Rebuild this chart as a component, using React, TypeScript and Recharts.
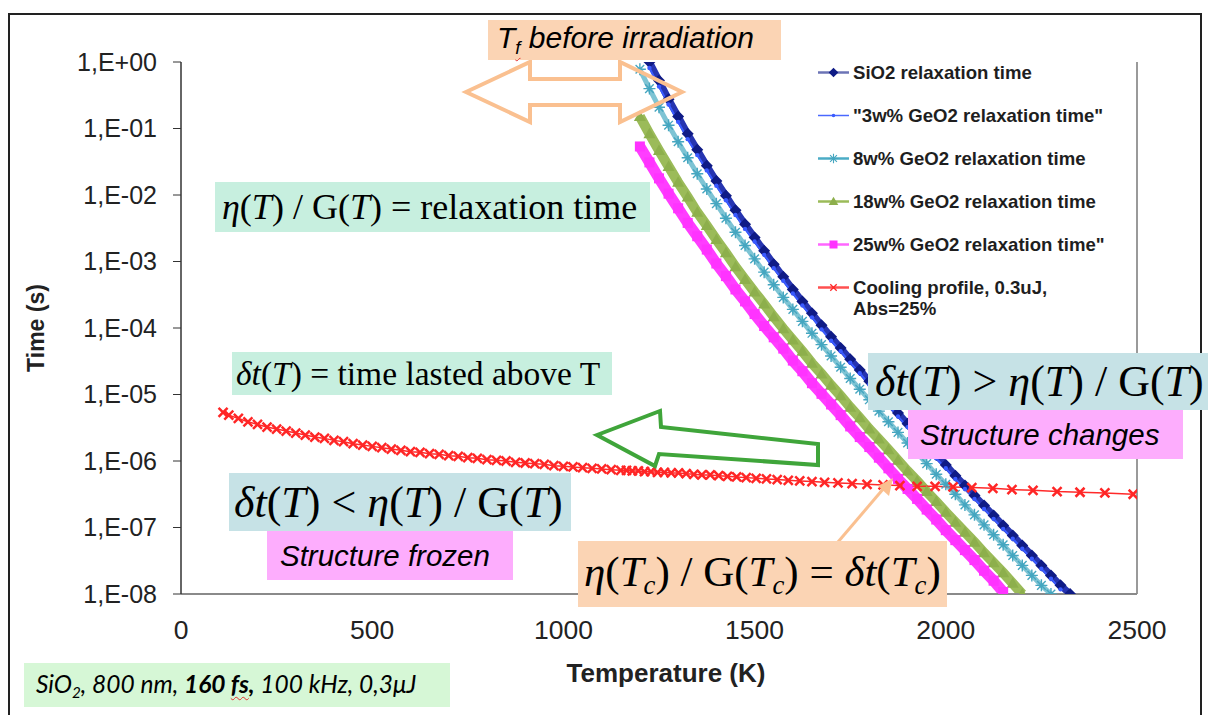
import React from "react";
import { LineChart, Line, XAxis, YAxis, Legend, ReferenceLine } from "recharts";

// temperature grid (K) shared by the relaxation-time curves
const relaxTemps = [
  1200, 1225, 1250, 1275, 1300, 1325, 1350, 1375, 1400, 1425, 1450, 1475, 1500, 1525, 1550, 1575,
  1600, 1625, 1650, 1675, 1700, 1725, 1750, 1775, 1800, 1825, 1850, 1875, 1900, 1925, 1950, 1975,
  2000, 2025, 2050, 2075, 2100, 2125, 2150, 2175, 2200, 2225, 2250, 2275, 2300, 2325,
];

// log10 of the relaxation time (s); null = outside the drawn range
const sio2Exp = [
  null, 0.0, -0.28, -0.56, -0.82, -1.08, -1.32, -1.56, -1.79, -2.01, -2.23, -2.44, -2.64, -2.84, -3.04, -3.23,
  -3.42, -3.6, -3.78, -3.96, -4.13, -4.3, -4.47, -4.63, -4.8, -4.96, -5.12, -5.28, -5.44, -5.6, -5.75, -5.91,
  -6.06, -6.22, -6.37, -6.52, -6.67, -6.82, -6.97, -7.12, -7.27, -7.42, -7.57, -7.72, -7.87, -8.0,
];
const geo3Exp = [
  null, -0.09, -0.37, -0.64, -0.9, -1.16, -1.4, -1.63, -1.86, -2.08, -2.3, -2.51, -2.7, -2.9, -3.1, -3.29,
  -3.48, -3.66, -3.84, -4.02, -4.19, -4.35, -4.52, -4.68, -4.85, -5.01, -5.17, -5.33, -5.49, -5.65, -5.8, -5.96,
  -6.11, -6.27, -6.42, -6.57, -6.72, -6.87, -7.02, -7.17, -7.32, -7.47, -7.62, -7.77, -7.93, null,
];
const geo8Exp = [
  -0.11, -0.4, -0.68, -0.95, -1.2, -1.44, -1.68, -1.91, -2.13, -2.35, -2.56, -2.76, -2.96, -3.16, -3.35, -3.54,
  -3.72, -3.9, -4.08, -4.25, -4.42, -4.59, -4.76, -4.92, -5.08, -5.25, -5.41, -5.57, -5.73, -5.88, -6.04, -6.2,
  -6.35, -6.5, -6.66, -6.81, -6.96, -7.11, -7.26, -7.42, -7.57, -7.72, -7.87, -8.0, null, null,
];
const geo18Exp = [
  -0.82, -1.08, -1.33, -1.57, -1.81, -2.03, -2.26, -2.46, -2.67, -2.87, -3.08, -3.27, -3.46, -3.64, -3.83, -4.01,
  -4.18, -4.35, -4.53, -4.69, -4.86, -5.02, -5.19, -5.35, -5.52, -5.67, -5.83, -5.99, -6.15, -6.3, -6.46, -6.61,
  -6.77, -6.92, -7.07, -7.22, -7.38, -7.53, -7.68, -7.84, -8.0, null, null, null, null, null,
];
const geo25Exp = [
  -1.27, -1.51, -1.75, -1.98, -2.2, -2.42, -2.62, -2.82, -3.03, -3.22, -3.42, -3.6, -3.79, -3.97, -4.14, -4.31,
  -4.49, -4.65, -4.83, -4.99, -5.15, -5.31, -5.48, -5.64, -5.79, -5.95, -6.11, -6.27, -6.42, -6.57, -6.73, -6.88,
  -7.04, -7.19, -7.34, -7.49, -7.65, -7.8, -7.97, null, null, null, null, null, null, null,
];

// cooling profile: temperature (K) and log10 of time spent above it (s)
const coolingTemps = [
  110, 125, 150, 175, 200, 225, 250, 275, 300, 325, 350, 375, 400, 425, 450, 475, 500, 525, 550, 575,
  600, 625, 650, 675, 700, 725, 750, 775, 800, 825, 850, 875, 900, 925, 950, 975, 1000, 1025, 1050, 1075,
  1100, 1125, 1150, 1165, 1180, 1196, 1212, 1229, 1246, 1264, 1282, 1301, 1321, 1341, 1362, 1384, 1406,
  1429, 1453, 1478, 1504, 1531, 1559, 1588, 1618, 1650, 1683, 1718, 1755, 1794, 1836, 1880, 1925, 1972,
  2019, 2068, 2123, 2173, 2228, 2291, 2351, 2416, 2490,
];
const coolingExp = [
  -5.27, -5.31, -5.36, -5.41, -5.45, -5.49, -5.52, -5.55, -5.58, -5.61, -5.64, -5.66, -5.69, -5.71, -5.74, -5.76,
  -5.78, -5.8, -5.82, -5.84, -5.86, -5.87, -5.89, -5.9, -5.92, -5.93, -5.95, -5.96, -5.98, -5.99, -6.0, -6.02,
  -6.03, -6.04, -6.05, -6.07, -6.08, -6.09, -6.1, -6.11, -6.12, -6.13, -6.14, -6.14, -6.15, -6.15, -6.16, -6.16,
  -6.17, -6.17, -6.18, -6.18, -6.19, -6.2, -6.21, -6.21, -6.22, -6.23, -6.24, -6.25, -6.26, -6.27, -6.28, -6.29,
  -6.3, -6.31, -6.32, -6.33, -6.34, -6.35, -6.36, -6.37, -6.38, -6.38, -6.39, -6.4, -6.41, -6.43, -6.44, -6.46,
  -6.47, -6.48, -6.5,
];

const xTicks = [0, 500, 1000, 1500, 2000, 2500];
const yTicks = [1, 0.1, 0.01, 0.001, 1e-4, 1e-5, 1e-6, 1e-7, 1e-8];

const sans = '"Liberation Sans", Arial, Helvetica, sans-serif';
const serif = '"Liberation Serif", "Times New Roman", serif';

const toPoints = (temps: number[], exps: (number | null)[]) =>
  temps.flatMap((t, i) => (exps[i] == null ? [] : [{ t, time: Math.pow(10, exps[i] as number) }]));

const series = [
  { name: "SiO2 relaxation time", temps: relaxTemps, exps: sio2Exp, stroke: "#2634B0", width: 7, marker: "diamond", markerColor: "#0F1B86", legendStroke: "#6C74B6" },
  { name: "\"3w% GeO2 relaxation time\"", temps: relaxTemps, exps: geo3Exp, stroke: "#3A5AFF", width: 2, marker: "dot", markerColor: "#3A5AFF", legendStroke: "#4A68FF" },
  { name: "8w% GeO2 relaxation time", temps: relaxTemps, exps: geo8Exp, stroke: "#7EC4D4", width: 5, marker: "asterisk", markerColor: "#45A6C0", legendStroke: "#4BACC6" },
  { name: "18w% GeO2 relaxation time", temps: relaxTemps, exps: geo18Exp, stroke: "#9BBB59", width: 10, marker: "triangle", markerColor: "#8DAF4C", legendStroke: "#9BBB59" },
  { name: "25w% GeO2 relaxation time\"", temps: relaxTemps, exps: geo25Exp, stroke: "#FF3DFF", width: 11, marker: "square", markerColor: "#FF33FF", legendStroke: "#FF66FF" },
  { name: "Cooling profile, 0.3uJ,\nAbs=25%", temps: coolingTemps, exps: coolingExp, stroke: "#FF2A2A", width: 1.5, marker: "cross", markerColor: "#FF2626", legendStroke: "#FF5050" },
];

function Marker({ kind, x, y, color, legend }: { kind: string; x: number; y: number; color: string; legend?: boolean }) {
  switch (kind) {
    case "diamond":
      return <polygon points={`${x},${y - 6} ${x + 6},${y} ${x},${y + 6} ${x - 6},${y}`} fill={color} />;
    case "dot":
      return <circle cx={x} cy={y} r={2.2} fill={color} />;
    case "asterisk":
      return (
        <path
          d={`M${x - 6},${y}H${x + 6}M${x},${y - 6}V${y + 6}M${x - 4.3},${y - 4.3}L${x + 4.3},${y + 4.3}M${x - 4.3},${y + 4.3}L${x + 4.3},${y - 4.3}`}
          stroke={color}
          strokeWidth={1.4}
        />
      );
    case "triangle":
      return <polygon points={`${x},${y - 6} ${x + 6},${y + 4.5} ${x - 6},${y + 4.5}`} fill={color} />;
    case "square":
      return <rect x={x - 5} y={y - 5} width={10} height={10} fill={color} />;
    default: {
      const r = legend ? 4 : 4.5;
      return <path d={`M${x - r},${y - r}L${x + r},${y + r}M${x - r},${y + r}L${x + r},${y - r}`} stroke={color} strokeWidth={legend ? 1.6 : 2.5} />;
    }
  }
}

const fmtTime = (v: number) => {
  const e = Math.round(Math.log10(v));
  return `1,E${e < 0 ? "-" : "+"}${String(Math.abs(e)).padStart(2, "0")}`;
};

function renderLegend() {
  return (
    <div style={{ fontFamily: sans, fontWeight: 700, fontSize: 18.6, color: "#1e1e1e" }}>
      {series.map((s) => (
        <div key={s.name} style={{ display: "flex", alignItems: "flex-start", height: 43 }}>
          <svg width={35} height={21} style={{ flex: "none" }}>
            <line x1={0} x2={31} y1={10.5} y2={10.5} stroke={s.legendStroke} strokeWidth={s.marker === "dot" ? 1.5 : 2.5} />
            <g transform="translate(15.5 10.5) scale(0.8) translate(-15.5 -10.5)">
              <Marker kind={s.marker} x={15.5} y={10.5} color={s.markerColor} legend />
            </g>
          </svg>
          <span style={{ lineHeight: "21px", whiteSpace: "pre" }}>{s.name}</span>
        </div>
      ))}
    </div>
  );
}

function Box({ left, top, width, height, bg, style, children }: any) {
  return (
    <div
      style={{
        position: "absolute",
        left,
        top,
        width,
        height,
        background: bg,
        display: "flex",
        alignItems: "center",
        whiteSpace: "nowrap",
        color: "#000",
        boxSizing: "border-box",
        ...style,
      }}
    >
      {children}
    </div>
  );
}

const sub: React.CSSProperties = { fontSize: "0.62em", verticalAlign: "-0.3em" };
const wavy: React.CSSProperties = { textDecoration: "underline wavy #e53030", textDecorationThickness: 1, textUnderlineOffset: 3 };

export default function App() {
  return (
    <div style={{ position: "relative", width: 1208, height: 715, overflow: "hidden", background: "#fff" }}>
      <style>{"body{margin:0}"}</style>
      <div style={{ position: "absolute", left: 8, top: 13, width: 1194, height: 710, border: "2px solid #222", borderBottom: "none", boxSizing: "border-box" }} />
      <div style={{ position: "absolute", left: 0, top: 0 }}>
        <LineChart width={1208} height={715} margin={{ top: 62, right: 71, bottom: 91, left: 101 }}>
          <XAxis
            dataKey="t"
            type="number"
            domain={[0, 2500]}
            ticks={xTicks}
            allowDataOverflow
            height={30}
            axisLine={{ stroke: "#8a8a8a", strokeWidth: 2 }}
            tickLine={false}
            tickSize={6}
            tickMargin={20}
            tick={{ fontSize: 26.5, fill: "#222", fontFamily: sans }}
            label={{ value: "Temperature (K)", position: "bottom", offset: 40, dx: 7, style: { fontSize: 26, fontWeight: 700, fill: "#222", fontFamily: sans } }}
          />
          <XAxis
            xAxisId="top"
            orientation="top"
            type="number"
            domain={[0, 2500]}
            ticks={xTicks}
            height={0}
            mirror
            tick={false}
            tickSize={7}
            axisLine={{ stroke: "#333", strokeWidth: 1.5 }}
            tickLine={{ stroke: "#333" }}
          />
          <YAxis
            type="number"
            scale="log"
            domain={[1e-8, 1]}
            ticks={yTicks}
            allowDataOverflow
            width={80}
            tickFormatter={fmtTime}
            axisLine={{ stroke: "#333", strokeWidth: 1.5 }}
            tickLine={{ stroke: "#333" }}
            tickSize={8}
            tickMargin={16}
            tick={{ fontSize: 25, fill: "#222", fontFamily: sans }}
            label={{
              value: "Time (s)",
              content: () => (
                <text x={36} y={328} transform="rotate(-90 36 328)" textAnchor="middle" dominantBaseline="central" fontSize={23} fontWeight={700} fill="#222" fontFamily={sans}>
                  Time (s)
                </text>
              ),
            }}
          />
          <ReferenceLine x={2500} stroke="#9a9a9a" strokeWidth={2} />
          {series.map((s) => (
            <Line
              key={s.name}
              data={toPoints(s.temps, s.exps)}
              dataKey="time"
              name={s.name}
              stroke={s.stroke}
              strokeWidth={s.width}
              isAnimationActive={false}
              activeDot={false}
              dot={(p: any) =>
                p.cx == null ? <g key={p.index} /> : (
                  <g key={p.index}>
                    <Marker kind={s.marker} x={p.cx} y={p.cy} color={s.markerColor} />
                  </g>
                )
              }
            />
          ))}
          <Legend layout="horizontal" verticalAlign="middle" align="center" content={renderLegend} wrapperStyle={{ left: 818, top: 62, width: 385 }} />
        </LineChart>
      </div>

      <svg width={1208} height={715} style={{ position: "absolute", left: 0, top: 0, pointerEvents: "none" }}>
        <polygon
          points="466,92 530,62 530,79 620,79 620,62 682,92 620,122 620,105 530,105 530,122"
          fill="none"
          stroke="#FAC090"
          strokeWidth={4}
          strokeLinejoin="miter"
        />
        <polygon
          points="597,435 660,411 661,427 818,444 818,465 659,454 655,466"
          fill="none"
          stroke="#3FA53A"
          strokeWidth={4}
        />
        <line x1={838} y1={542} x2={884} y2={488} stroke="#FAC090" strokeWidth={3} />
        <polygon points="893,478 878,486 889,496" fill="#FAC090" />
      </svg>

      <Box left={488} top={20} width={293} height={40} bg="#FBD4B4" style={{ fontFamily: sans, fontStyle: "italic", fontSize: 30, paddingLeft: 9 }}>
        <span>
          T<span style={{ ...sub, ...wavy }}>f</span> before irradiation
        </span>
      </Box>
      <Box left={215} top={182} width={435} height={50} bg="#C7EFDF" style={{ fontFamily: serif, fontSize: 36, paddingLeft: 7 }}>
        <span>
          <i>η</i>(<i>T</i>) / G(<i>T</i>) = relaxation time
        </span>
      </Box>
      <Box left={232} top={352} width={380} height={43} bg="#C7EFDF" style={{ fontFamily: serif, fontSize: 33.5, paddingLeft: 4 }}>
        <span>
          <i>δt</i>(<i>T</i>) = time lasted above T
        </span>
      </Box>
      <Box left={229} top={473} width={342} height={58} bg="#C6E2E6" style={{ fontFamily: serif, fontSize: 44, paddingLeft: 5 }}>
        <span>
          <i>δt</i>(<i>T</i>) &lt; <i>η</i>(<i>T</i>) / G(<i>T</i>)
        </span>
      </Box>
      <Box left={267} top={531} width={246} height={49} bg="#FDADFD" style={{ fontFamily: sans, fontStyle: "italic", fontSize: 29.5, paddingLeft: 13 }}>
        Structure frozen
      </Box>
      <Box left={868} top={353} width={340} height={57} bg="#C6E2E6" style={{ fontFamily: serif, fontSize: 44, paddingLeft: 7 }}>
        <span>
          <i>δt</i>(<i>T</i>) &gt; <i>η</i>(<i>T</i>) / G(<i>T</i>)
        </span>
      </Box>
      <Box left={908} top={410} width={275} height={49} bg="#FDADFD" style={{ fontFamily: sans, fontStyle: "italic", fontSize: 29.5, paddingLeft: 12 }}>
        Structure changes
      </Box>
      <Box left={578} top={541} width={369} height={66} bg="#FBD4B4" style={{ fontFamily: serif, fontSize: 43, paddingLeft: 6 }}>
        <span>
          <i>η</i>(<i>T</i>
          <i style={sub}>c</i>) / G(<i>T</i>
          <i style={sub}>c</i>) = <i>δt</i>(<i>T</i>
          <i style={sub}>c</i>)
        </span>
      </Box>
      <Box left={24} top={663} width={426} height={44} bg="#D6F7D6" style={{ fontFamily: "Lato, " + sans, fontStyle: "italic", fontSize: 24.5, paddingLeft: 12 }}>
        <span>
          SiO<span style={sub}>2</span>, 800 nm, <b>160 <span style={wavy}>fs</span>,</b> 100 kHz, 0,3μJ
        </span>
      </Box>
    </div>
  );
}
